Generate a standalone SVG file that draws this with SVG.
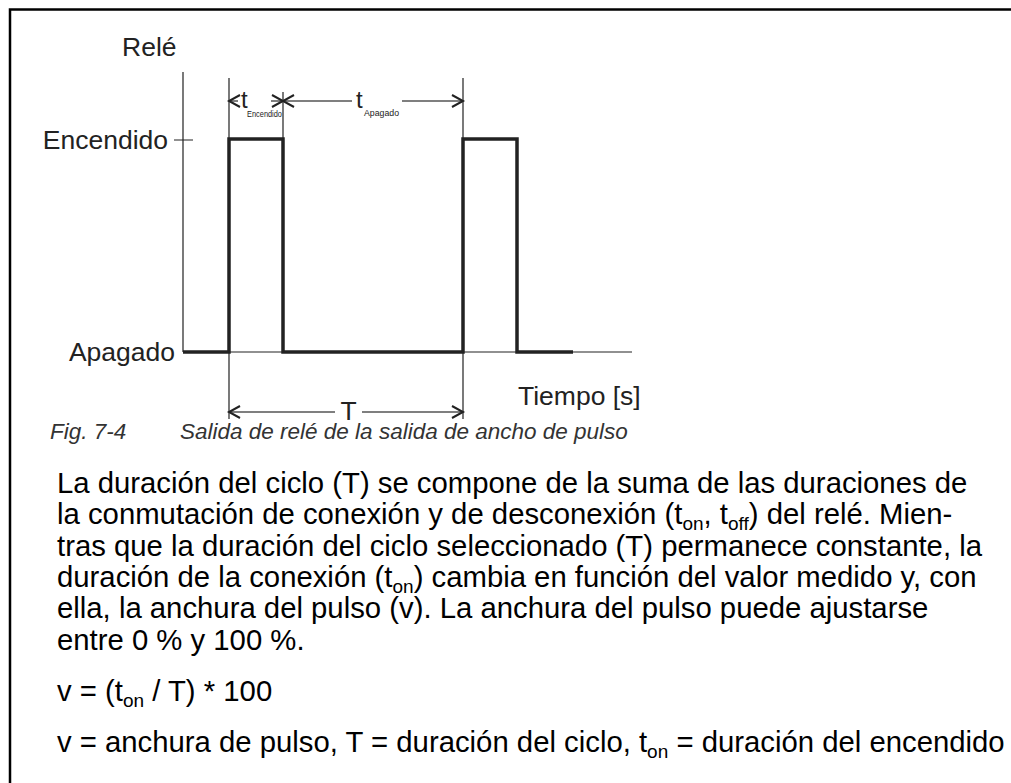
<svg xmlns="http://www.w3.org/2000/svg" width="1011" height="783" viewBox="0 0 1011 783">
<defs>
<style>
.lbl{font-family:"Liberation Sans",Arial,sans-serif;font-size:26.5px;fill:#222}
.sub{font-family:"Liberation Sans",Arial,sans-serif;font-size:9px;fill:#222}
.body{font-family:"Liberation Sans",Arial,sans-serif;font-size:29.3px;fill:#000}
.s{font-size:19px}
.cap{font-family:"Liberation Sans",Arial,sans-serif;font-size:22.5px;font-style:italic;fill:#333}
.thin{stroke:#222;stroke-width:1.2;fill:none}
.dim{stroke:#555;stroke-width:1.3;fill:none}
.head{stroke:#222;stroke-width:2;fill:none}
.sig{stroke:#222;stroke-width:3.5;fill:none;stroke-linejoin:miter}
</style>
</defs>
<rect width="1011" height="783" fill="#fff"/>
<path d="M10,783 V9.5 H1011" stroke="#000" stroke-width="2.5" fill="none"/>
<g id="axes">
<path class="thin" d="M183,72 V352 M174,140 H193 M183,352 H632"/>
<text class="lbl" x="122" y="56">Relé</text>
<text class="lbl" x="168" y="149" text-anchor="end">Encendido</text>
<text class="lbl" x="175" y="361" text-anchor="end">Apagado</text>
<text class="lbl" x="518" y="405">Tiempo [s]</text>
</g>
<g id="signal">
<path class="sig" d="M183,352 H229 V139 H283 V352 H463 V139 H517 V352 H573"/>
</g>
<g id="connectors">
<path class="thin" d="M229,78 V139 M283,92 V139 M463,78 V139 M229,352 V419 M463,352 V419"/>
<path class="dim" d="M229,101 H238 M271,101 H283 M283,101 H352 M402,101 H463 M229,412 H335 M362,412 H463"/>
<path class="head" d="M240,95 L229,101 L240,107 M272,95 L283,101 L272,107 M294,95 L283,101 L294,107 M452,95 L463,101 L452,107 M240,406 L229,412 L240,418 M452,406 L463,412 L452,418"/>
</g>
<g id="dimlabels">
<text class="lbl" x="241" y="108" style="font-size:24px">t</text>
<text class="sub" x="247" y="117" textLength="35" lengthAdjust="spacingAndGlyphs">Encendido</text>
<text class="lbl" x="356" y="108" style="font-size:24px">t</text>
<text class="sub" x="364" y="116" textLength="35" lengthAdjust="spacingAndGlyphs">Apagado</text>
<text class="lbl" x="348.5" y="420" text-anchor="middle">T</text>
</g>
<g id="caption">
<text class="cap" x="50" y="439">Fig. 7-4</text>
<text class="cap" x="180" y="439">Salida de relé de la salida de ancho de pulso</text>
</g>
<g id="body">
<text class="body" x="57" y="493">La duración del ciclo (T) se compone de la suma de las duraciones de</text>
<text class="body" x="57" y="524">la conmutación de conexión y de desconexión (t<tspan class="s" dy="6">on</tspan><tspan dy="-6">, t</tspan><tspan class="s" dy="6">off</tspan><tspan dy="-6">) del relé. Mien-</tspan></text>
<text class="body" x="57" y="556">tras que la duración del ciclo seleccionado (T) permanece constante, la</text>
<text class="body" x="57" y="587">duración de la conexión (t<tspan class="s" dy="6">on</tspan><tspan dy="-6">) cambia en función del valor medido y, con</tspan></text>
<text class="body" x="57" y="618">ella, la anchura del pulso (v). La anchura del pulso puede ajustarse</text>
<text class="body" x="57" y="650">entre 0 % y 100 %.</text>
<text class="body" x="57" y="701">v = (t<tspan class="s" dy="6">on</tspan><tspan dy="-6"> / T) * 100</tspan></text>
<text class="body" x="57" y="752">v = anchura de pulso, T = duración del ciclo, t<tspan class="s" dy="6">on</tspan><tspan dy="-6"> = duración del encendido</tspan></text>
</g>
</svg>
